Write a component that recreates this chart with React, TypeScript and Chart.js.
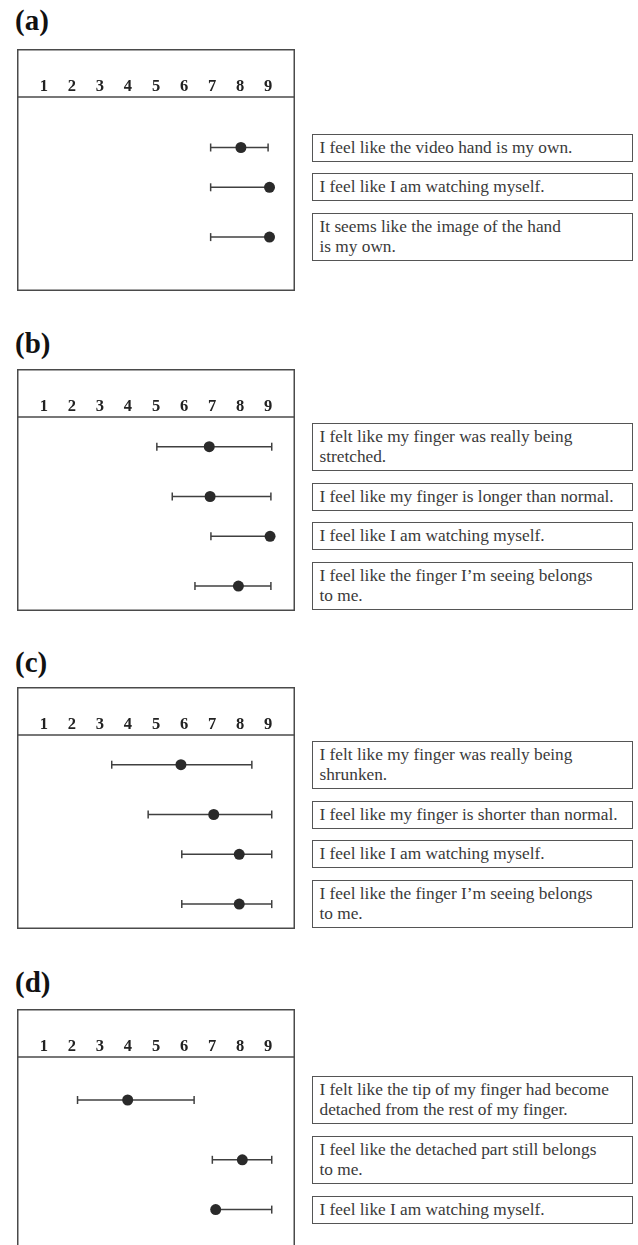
import React, { useEffect, useRef } from "react";
import { Chart, registerables } from "chart.js";

Chart.register(...registerables);

// ---------------- data ----------------
const TICK_VALUES = [1, 2, 3, 4, 5, 6, 7, 8, 9];
const PANEL_LABELS = ["(a)", "(b)", "(c)", "(d)"];

const A_STATEMENTS = [
  "I feel like the video hand is my own.",
  "I feel like I am watching myself.",
  "It seems like the image of the hand\nis my own.",
];
const A_MEAN = [8.03, 9.05, 9.05];
const A_LOW = [6.95, 6.95, 6.95];
const A_HIGH = [9.0, 9.05, 9.05];

const B_STATEMENTS = [
  "I felt like my finger was really being\nstretched.",
  "I feel like my finger is longer than normal.",
  "I feel like I am watching myself.",
  "I feel like the finger I\u2019m seeing belongs\nto me.",
];
const B_MEAN = [6.9, 6.93, 9.07, 7.94];
const B_LOW = [5.03, 5.58, 6.96, 6.39];
const B_HIGH = [9.13, 9.1, 9.07, 9.1];

const C_STATEMENTS = [
  "I felt like my finger was really being\nshrunken.",
  "I feel like my finger is shorter than normal.",
  "I feel like I am watching myself.",
  "I feel like the finger I\u2019m seeing belongs\nto me.",
];
const C_MEAN = [5.89, 7.06, 7.97, 7.97];
const C_LOW = [3.42, 4.72, 5.92, 5.92];
const C_HIGH = [8.42, 9.13, 9.13, 9.13];

const D_STATEMENTS = [
  "I felt like the tip of my finger had become\ndetached from the rest of my finger.",
  "I feel like the detached part still belongs\nto me.",
  "I feel like I am watching myself.",
];
const D_MEAN = [3.99, 8.08, 7.13];
const D_LOW = [2.2, 7.01, 7.13];
const D_HIGH = [6.36, 9.13, 9.13];

const PANELS = [
  { label: PANEL_LABELS[0], statements: A_STATEMENTS, mean: A_MEAN, low: A_LOW, high: A_HIGH },
  { label: PANEL_LABELS[1], statements: B_STATEMENTS, mean: B_MEAN, low: B_LOW, high: B_HIGH },
  { label: PANEL_LABELS[2], statements: C_STATEMENTS, mean: C_MEAN, low: C_LOW, high: C_HIGH },
  { label: PANEL_LABELS[3], statements: D_STATEMENTS, mean: D_MEAN, low: D_LOW, high: D_HIGH },
];

// ---------------- layout ----------------
const BOX_LEFT = 17;
const BOX_W = 278;
const BOX_H = 242;
const AXIS_H = 48;
const BOX_TOPS = [49, 369, 687, 1009];
const TITLE_TOPS = [6, 329, 648, 968];
const FIRST_ROW_OFFSET = [36.5, 5.7, 5.7, 19];
const TEXT_LEFT = 312;
const TEXT_W = 321;
const LINE_H = 20;
const BOX_PAD = 8;
const GAP = 11.8;
const X_MIN = 0.04;
const X_MAX = 9.96;
const SERIF = '"Liberation Serif", "Times New Roman", serif';

function layoutRows(statements: string[], offset: number) {
  let y = offset;
  return statements.map((s) => {
    const lines = s.split("\n").length;
    const h = BOX_PAD + LINE_H * lines;
    const r = { top: y, h, center: y + h / 2 };
    y += h + GAP;
    return r;
  });
}

function Panel({ panel, idx }: { panel: any; idx: number }) {
  const ref = useRef<HTMLCanvasElement | null>(null);
  const plotH = BOX_H - AXIS_H;
  const rows = layoutRows(panel.statements, FIRST_ROW_OFFSET[idx]);

  useEffect(() => {
    const framePlugin = {
      id: "frame",
      afterDraw(chart: any) {
        const { ctx, chartArea } = chart;
        ctx.save();
        ctx.strokeStyle = "#4a4a4a";
        ctx.lineWidth = 1.5;
        ctx.strokeRect(0.75, 0.75, chart.width - 1.5, chart.height - 1.5);
        ctx.beginPath();
        ctx.moveTo(0, chartArea.top);
        ctx.lineTo(chart.width, chartArea.top);
        ctx.stroke();
        ctx.restore();
      },
    };
    const errorSets = rows.map((r, i) => ({
      data: [
        { x: panel.low[i], y: r.center },
        { x: panel.high[i], y: r.center },
      ],
      showLine: true,
      borderColor: "#404040",
      borderWidth: 1.5,
      pointStyle: "line",
      rotation: 90,
      pointRadius: 4,
      pointBorderWidth: 1.5,
      pointBorderColor: "#404040",
      order: 1,
    }));
    const chart = new Chart(ref.current as HTMLCanvasElement, {
      type: "scatter",
      data: {
        datasets: [
          {
            data: panel.mean.map((m: number, i: number) => ({ x: m, y: rows[i].center })),
            pointRadius: 5.5,
            pointBackgroundColor: "#2a2a2a",
            pointBorderWidth: 0,
            pointStyle: "circle",
            order: 0,
          },
          ...errorSets,
        ] as any,
      },
      options: {
        responsive: false,
        animation: false,
        devicePixelRatio: 1,
        events: [],
        layout: { padding: 0, autoPadding: false },
        plugins: { legend: { display: false }, tooltip: { enabled: false } },
        scales: {
          x: {
            type: "linear",
            position: "top",
            min: X_MIN,
            max: X_MAX,
            afterBuildTicks: (s: any) => {
              s.ticks = TICK_VALUES.map((v) => ({ value: v }));
            },
            afterFit: (s: any) => {
              s.height = AXIS_H;
            },
            grid: { display: false, drawTicks: false },
            border: { display: false },
            ticks: {
              padding: 0,
              color: "#222",
              autoSkip: false,
              maxRotation: 0,
              font: { family: SERIF, size: 16.5, weight: "bold" },
              callback: (v: any) => String(v),
            },
          },
          y: { type: "linear", display: false, min: 0, max: plotH, reverse: true },
        },
      } as any,
      plugins: [framePlugin],
    });
    return () => chart.destroy();
  }, []);

  const top = BOX_TOPS[idx];
  return (
    <>
      <div
        style={{
          position: "absolute",
          left: 15,
          top: TITLE_TOPS[idx],
          fontFamily: SERIF,
          fontWeight: "bold",
          fontSize: 29,
          lineHeight: "29px",
          color: "#111",
        }}
      >
        {panel.label}
      </div>
      <canvas
        ref={ref}
        width={BOX_W}
        height={BOX_H}
        style={{ position: "absolute", left: BOX_LEFT, top, width: BOX_W, height: BOX_H }}
      />
      {panel.statements.map((s: string, i: number) => (
        <div
          key={i}
          style={{
            position: "absolute",
            left: TEXT_LEFT,
            top: top + AXIS_H + rows[i].top,
            width: TEXT_W,
            height: rows[i].h,
            boxSizing: "border-box",
            border: "1.3px solid #555",
            padding: "3.2px 0 0 6.5px",
            fontFamily: SERIF,
            fontSize: 17.3,
            lineHeight: LINE_H + "px",
            whiteSpace: "pre",
            color: "#3a3a3a",
          }}
        >
          {s}
        </div>
      ))}
    </>
  );
}

export default function App() {
  return (
    <div
      style={{
        position: "absolute",
        left: 0,
        top: 0,
        width: 638,
        height: 1245,
        overflow: "hidden",
        background: "#fff",
      }}
    >
      {PANELS.map((p, i) => (
        <Panel key={i} panel={p} idx={i} />
      ))}
    </div>
  );
}
